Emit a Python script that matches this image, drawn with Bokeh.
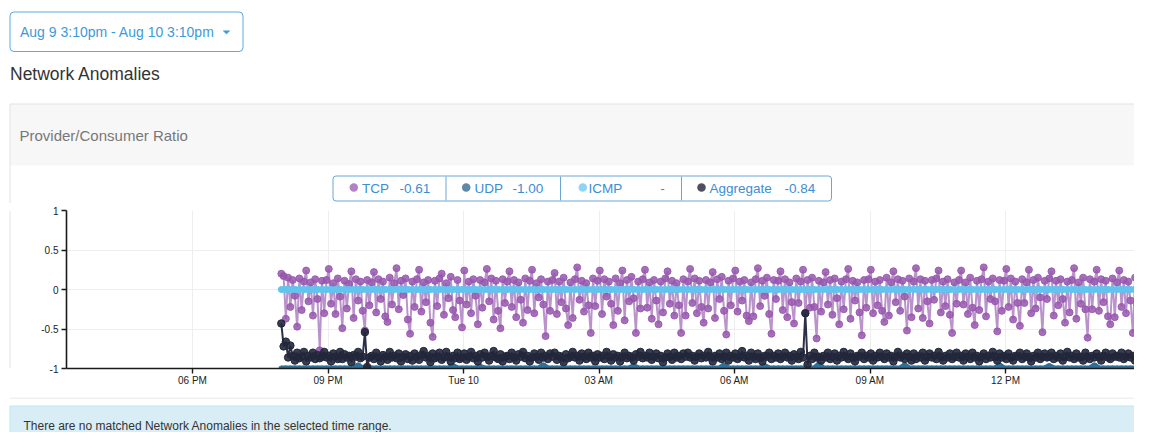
import pandas as pd
from bokeh.plotting import figure
from bokeh.layouts import column, row
from bokeh.models import Range1d, ColumnDataSource, FixedTicker
from bokeh.core.properties import value
from bokeh.embed import file_html
from bokeh.resources import INLINE

# ---------------- data ----------------
series_names = ["TCP", "UDP", "ICMP", "Aggregate"]
summary_values = ["-0.61", "-1.00", "-", "-0.84"]
series_colors = ["#9656ad", "#2f7099", "#62c3ee", "#22273b"]
legend_dot_colors = ["#b283c4", "#5d88a8", "#8dd4f5", "#4f4f61"]

y_ticks = [-1, -0.5, 0, 0.5, 1]
y_tick_labels = ["-1", "-0.5", "0", "0.5", "1"]
x_tick_times = ["2021-08-09 18:00", "2021-08-09 21:00", "2021-08-10 00:00",
                "2021-08-10 03:00", "2021-08-10 06:00", "2021-08-10 09:00",
                "2021-08-10 12:00", "2021-08-10 15:00"]
x_tick_labels = ["06 PM", "09 PM", "Tue 10", "03 AM", "06 AM", "09 AM", "12 PM", "03 PM"]

# TCP and Aggregate: one reading every 3 minutes from 19:58 (one row = one hour)
fine_start = "2021-08-09 19:58"
tcp = [
    0.20, 0.17, -0.37, 0.15, -0.22, 0.12, -0.08, -0.47, 0.14, -0.26, 0.10, 0.24, -0.15, 0.09, -0.33, 0.13, -0.12, -0.77, 0.11, -0.30,
    0.12, 0.26, -0.18, 0.08, -0.31, 0.14, -0.09, -0.49, 0.11, -0.24, 0.07, 0.23, -0.36, 0.13, -0.14, 0.10, -0.27, -0.52, 0.12, -0.20,
    0.09, 0.22, -0.29, 0.13, -0.12, 0.10, -0.34, -0.41, 0.15, -0.19, 0.08, 0.27, -0.25, 0.11, -0.07, 0.14, -0.38, -0.56, 0.10, -0.22,
    0.13, 0.25, -0.28, 0.09, -0.16, 0.12, -0.42, -0.60, 0.11, -0.21, 0.14, 0.20, -0.32, 0.08, -0.11, 0.16, -0.26, -0.35, 0.12, -0.14,
    -0.48, 0.24, -0.19, 0.10, -0.30, 0.13, -0.08, -0.44, 0.12, -0.23, 0.09, 0.26, -0.15, 0.14, -0.38, 0.11, -0.27, -0.49, 0.13, -0.17,
    0.10, 0.23, -0.22, 0.12, -0.35, 0.09, -0.13, -0.42, 0.14, -0.26, 0.11, 0.25, -0.30, 0.08, -0.10, 0.13, -0.19, -0.59, 0.10, -0.27,
    0.12, 0.21, -0.31, 0.10, -0.16, 0.15, -0.24, -0.45, 0.09, -0.36, 0.13, 0.28, -0.13, 0.11, -0.28, 0.08, -0.20, -0.55, 0.14, -0.21,
    0.11, 0.24, -0.31, 0.13, -0.09, 0.10, -0.18, -0.45, 0.14, -0.27, 0.08, 0.24, -0.39, 0.12, -0.15, 0.16, -0.11, -0.55, 0.10, -0.24,
    0.13, 0.25, -0.23, 0.09, -0.37, 0.12, -0.14, -0.44, 0.10, -0.29, 0.14, 0.23, -0.18, 0.11, -0.33, 0.08, -0.20, -0.55, 0.13, -0.33,
    0.10, 0.26, -0.17, 0.14, -0.30, 0.11, -0.22, -0.42, 0.12, -0.24, 0.09, 0.22, -0.36, 0.13, -0.12, 0.16, -0.27, -0.57, 0.11, -0.20,
    0.14, 0.24, -0.28, 0.10, -0.14, 0.12, -0.33, -0.40, 0.09, -0.34, 0.13, 0.27, -0.21, 0.11, -0.08, 0.15, -0.31, -0.56, 0.12, -0.12,
    0.11, 0.23, -0.26, 0.13, -0.35, 0.09, -0.16, -0.43, 0.14, -0.17, 0.10, 0.25, -0.30, 0.12, -0.23, 0.15, -0.22, -0.62, 0.11, -0.28,
    0.09, 0.22, -0.19, 0.12, -0.32, 0.14, -0.11, -0.44, 0.10, -0.25, 0.13, 0.26, -0.37, 0.11, -0.14, 0.09, -0.29, -0.58, 0.12, -0.23,
    0.13, 0.25, -0.30, 0.10, -0.20, 0.12, -0.27, -0.41, 0.15, -0.33, 0.09, 0.23, -0.16, 0.13, -0.27, 0.11, -0.09, -0.52, 0.14, -0.35,
    0.10, 0.27, -0.24, 0.13, -0.36, 0.11, -0.15, -0.43, 0.12, -0.13, 0.14, 0.24, -0.29, 0.10, -0.21, 0.13, -0.32, -0.55, 0.09, -0.18,
    0.12, 0.24, -0.19, 0.09, -0.31, 0.15, -0.23, -0.45, 0.11, -0.26, 0.13, 0.28, -0.34, 0.10, -0.12, 0.14, -0.15, -0.53, 0.12, -0.27,
    0.11, 0.26, -0.22, 0.14, -0.38, 0.10, -0.17, -0.46, 0.13, -0.17, 0.09, 0.25, -0.30, 0.12, -0.24, 0.15, -0.10, -0.54, 0.11, -0.12,
    0.14, 0.23, -0.33, 0.11, -0.20, 0.13, -0.12, -0.42, 0.10, -0.29, 0.12, 0.27, -0.37, 0.09, -0.18, 0.15, -0.25, -0.61, 0.13, -0.25,
    0.10, 0.25, -0.27, 0.13, -0.16, 0.11, -0.34, -0.44, 0.14, -0.35, 0.09, 0.24, -0.22, 0.12, -0.30, 0.10, -0.14, -0.55, 0.15, -0.19,
    0.12, 0.27, -0.15,
]
aggregate = [
    -0.43, -0.72, -0.66, -0.86, -0.71, -0.84, -0.90, -0.80, -0.87, -0.85, -0.79, -0.91, -0.84, -0.86, -0.80, -0.88, -0.83, -0.87, -0.85, -0.79,
    -0.86, -0.84, -0.91, -0.81, -0.85, -0.88, -0.79, -0.88, -0.82, -0.86, -0.84, -0.92, -0.83, -0.85, -0.79, -0.87, -0.85, -0.54, -0.98, -0.86,
    -0.84, -0.88, -0.80, -0.86, -0.91, -0.83, -0.85, -0.89, -0.79, -0.86, -0.84, -0.87, -0.81, -0.91, -0.85, -0.82, -0.88, -0.84, -0.90, -0.81,
    -0.85, -0.89, -0.83, -0.78, -0.86, -0.84, -0.92, -0.81, -0.87, -0.85, -0.80, -0.89, -0.86, -0.79, -0.85, -0.91, -0.84, -0.87, -0.80, -0.88,
    -0.86, -0.81, -0.89, -0.85, -0.79, -0.87, -0.84, -0.91, -0.82, -0.86, -0.80, -0.85, -0.90, -0.84, -0.78, -0.86, -0.88, -0.82, -0.91, -0.85,
    -0.84, -0.88, -0.80, -0.86, -0.90, -0.82, -0.85, -0.79, -0.87, -0.84, -0.91, -0.86, -0.81, -0.85, -0.89, -0.80, -0.86, -0.84, -0.88, -0.81,
    -0.85, -0.80, -0.89, -0.84, -0.86, -0.92, -0.82, -0.87, -0.85, -0.79, -0.86, -0.84, -0.90, -0.81, -0.85, -0.88, -0.80, -0.86, -0.84, -0.91,
    -0.82, -0.86, -0.84, -0.88, -0.79, -0.85, -0.90, -0.82, -0.86, -0.84, -0.91, -0.85, -0.80, -0.87, -0.84, -0.86, -0.90, -0.82, -0.85, -0.79,
    -0.87, -0.84, -0.86, -0.80, -0.89, -0.85, -0.81, -0.87, -0.84, -0.92, -0.86, -0.81, -0.85, -0.89, -0.80, -0.86, -0.84, -0.88, -0.81, -0.85,
    -0.80, -0.86, -0.84, -0.90, -0.85, -0.81, -0.87, -0.84, -0.86, -0.79, -0.85, -0.91, -0.84, -0.86, -0.81, -0.88, -0.85, -0.80, -0.90, -0.84,
    -0.86, -0.81, -0.88, -0.85, -0.78, -0.86, -0.84, -0.90, -0.80, -0.85, -0.88, -0.81, -0.86, -0.91, -0.84, -0.85, -0.80, -0.88, -0.84, -0.86,
    -0.81, -0.88, -0.85, -0.80, -0.86, -0.84, -0.90, -0.82, -0.85, -0.88, -0.79, -0.86, -0.30, -0.95, -0.84, -0.88, -0.80, -0.86, -0.85, -0.90,
    -0.84, -0.86, -0.80, -0.88, -0.85, -0.81, -0.90, -0.84, -0.86, -0.79, -0.85, -0.88, -0.81, -0.86, -0.91, -0.84, -0.85, -0.80, -0.88, -0.84,
    -0.86, -0.81, -0.90, -0.84, -0.86, -0.80, -0.85, -0.88, -0.81, -0.86, -0.84, -0.91, -0.85, -0.79, -0.86, -0.84, -0.88, -0.81, -0.85, -0.90,
    -0.81, -0.88, -0.84, -0.86, -0.80, -0.90, -0.85, -0.81, -0.86, -0.84, -0.88, -0.79, -0.85, -0.90, -0.84, -0.86, -0.81, -0.88, -0.85, -0.80,
    -0.86, -0.84, -0.90, -0.81, -0.85, -0.88, -0.80, -0.86, -0.84, -0.91, -0.85, -0.81, -0.88, -0.84, -0.86, -0.79, -0.85, -0.90, -0.81, -0.86,
    -0.84, -0.88, -0.81, -0.86, -0.90, -0.84, -0.85, -0.80, -0.88, -0.85, -0.81, -0.86, -0.91, -0.84, -0.86, -0.80, -0.88, -0.85, -0.81, -0.86,
    -0.85, -0.80, -0.88, -0.84, -0.86, -0.81, -0.90, -0.85, -0.79, -0.86, -0.84, -0.88, -0.81, -0.86, -0.85, -0.90, -0.80, -0.85, -0.88, -0.84,
    -0.86, -0.81, -0.85, -0.90, -0.84, -0.80, -0.86, -0.88, -0.81, -0.85, -0.84, -0.86, -0.80, -0.88, -0.85, -0.81, -0.86, -0.84, -0.90, -0.85,
    -0.84, -0.86, -0.83,
]

# UDP and ICMP: one reading every 6 minutes from 19:58 (one row = one hour)
coarse_start = "2021-08-09 19:58"
udp = [
    -1.00, -1.00, -1.00, -1.00, -1.00, -1.00, -1.00, -1.00, -1.00, -1.00,
    -1.00, -1.00, -1.00, -1.00, -1.00, -1.00, -1.00, -0.96, -1.00, -1.00,
    -1.00, -1.00, -1.00, -1.00, -1.00, -1.00, -1.00, -1.00, -1.00, -1.00,
    -1.00, -1.00, -1.00, -1.00, -1.00, -1.00, -1.00, -1.00, -0.97, -1.00,
    -1.00, -1.00, -1.00, -1.00, -0.98, -1.00, -1.00, -1.00, -1.00, -1.00,
    -1.00, -1.00, -1.00, -1.00, -1.00, -1.00, -1.00, -1.00, -0.96, -1.00,
    -1.00, -1.00, -1.00, -1.00, -1.00, -1.00, -1.00, -1.00, -1.00, -1.00,
    -1.00, -1.00, -1.00, -1.00, -1.00, -1.00, -1.00, -1.00, -0.97, -1.00,
    -1.00, -1.00, -1.00, -1.00, -1.00, -1.00, -1.00, -1.00, -1.00, -1.00,
    -1.00, -1.00, -1.00, -1.00, -1.00, -1.00, -1.00, -1.00, -0.96, -1.00,
    -1.00, -1.00, -1.00, -1.00, -1.00, -1.00, -1.00, -0.97, -1.00, -1.00,
    -1.00, -1.00, -1.00, -1.00, -1.00, -1.00, -1.00, -1.00, -1.00, -0.95,
    -1.00, -1.00, -1.00, -1.00, -1.00, -1.00, -1.00, -1.00, -1.00, -1.00,
    -1.00, -1.00, -1.00, -1.00, -1.00, -1.00, -1.00, -1.00, -0.96, -1.00,
    -1.00, -1.00, -1.00, -1.00, -1.00, -1.00, -1.00, -1.00, -1.00, -1.00,
    -1.00, -1.00, -1.00, -1.00, -1.00, -1.00, -1.00, -1.00, -1.00, -0.96,
    -1.00, -1.00, -1.00, -1.00, -1.00, -1.00, -1.00, -1.00, -1.00, -1.00,
    -0.97, -1.00, -1.00, -1.00, -1.00, -1.00, -1.00, -1.00, -1.00, -1.00,
    -0.96, -1.00, -1.00, -1.00, -1.00, -1.00, -1.00, -1.00, -1.00, -1.00,
    -1.00, -1.00,
]
icmp = [
    0.0, 0.0, 0.0, 0.0, 0.0, 0.0, 0.0, 0.0, 0.0, 0.0,
    0.0, 0.0, 0.0, 0.0, 0.0, 0.0, 0.0, 0.0, 0.0, 0.0,
    0.0, 0.0, 0.0, 0.0, 0.0, 0.0, 0.0, 0.0, 0.0, 0.0,
    0.0, 0.0, 0.0, 0.0, 0.0, 0.0, 0.0, 0.0, 0.0, 0.0,
    0.0, 0.0, 0.0, 0.0, 0.0, 0.0, 0.0, 0.0, 0.0, 0.0,
    0.0, 0.0, 0.0, 0.0, 0.0, 0.0, 0.0, 0.0, 0.0, 0.0,
    0.0, 0.0, 0.0, 0.0, 0.0, 0.0, 0.0, 0.0, 0.0, 0.0,
    0.0, 0.0, 0.0, 0.0, 0.0, 0.0, 0.0, 0.0, 0.0, 0.0,
    0.0, 0.0, 0.0, 0.0, 0.0, 0.0, 0.0, 0.0, 0.0, 0.0,
    0.0, 0.0, 0.0, 0.0, 0.0, 0.0, 0.0, 0.0, 0.0, 0.0,
    0.0, 0.0, 0.0, 0.0, 0.0, 0.0, 0.0, 0.0, 0.0, 0.0,
    0.0, 0.0, 0.0, 0.0, 0.0, 0.0, 0.0, 0.0, 0.0, 0.0,
    0.0, 0.0, 0.0, 0.0, 0.0, 0.0, 0.0, 0.0, 0.0, 0.0,
    0.0, 0.0, 0.0, 0.0, 0.0, 0.0, 0.0, 0.0, 0.0, 0.0,
    0.0, 0.0, 0.0, 0.0, 0.0, 0.0, 0.0, 0.0, 0.0, 0.0,
    0.0, 0.0, 0.0, 0.0, 0.0, 0.0, 0.0, 0.0, 0.0, 0.0,
    0.0, 0.0, 0.0, 0.0, 0.0, 0.0, 0.0, 0.0, 0.0, 0.0,
    0.0, 0.0, 0.0, 0.0, 0.0, 0.0, 0.0, 0.0, 0.0, 0.0,
    0.0, 0.0, 0.0, 0.0, 0.0, 0.0, 0.0, 0.0, 0.0, 0.0,
    0.0, 0.0,
]

page_texts = {
    "range": "Aug 9 3:10pm - Aug 10 3:10pm",
    "section": "Network Anomalies",
    "panel": "Provider/Consumer Ratio",
    "message": "There are no matched Network Anomalies in the selected time range.",
}

# ---------------- layout constants (pixels, y from top) ----------------
W, H = 1134, 432
TOP_H = 203          # header strip: y 0..203
MID_H = 194          # chart strip:  y 203..397
STRIP_W = 20
FRAME_L, FRAME_T, FRAME_B = 66, 210, 368
UI_FONT = "Liberation Sans"
LEGEND_BLUE = "#6aa7d6"
LEGEND_TEXT = "#3b8ed4"


def deco_fig(w, y0, y1):
    """blank figure whose data coordinates equal pixels (y downwards)"""
    f = figure(width=w, height=y1 - y0, x_range=Range1d(0, w), y_range=Range1d(y1, y0),
               x_axis_location=None, y_axis_location=None,
               output_backend="svg", toolbar_location=None)
    f.min_border = 0
    f.outline_line_color = None
    f.grid.grid_line_color = None
    f.background_fill_color = "white"
    f.border_fill_color = "white"
    return f


def put_text(f, x, y, s, size, color, align="left"):
    f.text(x=[x], y=[y], text=[s], text_font=value(UI_FONT), text_font_size=size,
           text_color=color, text_align=align, text_baseline="middle")


# ---- header: dropdown, section title, panel header, legend ----
top = deco_fig(W, 0, TOP_H)
top.quad(left=[9.5], right=[242.5], top=[11.5], bottom=[51], fill_color="white",
         line_color="#5ea9dd", line_width=1, border_radius=4)
put_text(top, 19.5, 31, page_texts["range"], "14px", "#3d9ad8")
top.patch(x=[222.7, 229.3, 226.0], y=[30.3, 30.3, 33.5], fill_color="#3d9ad8", line_color="#3d9ad8",
          line_width=0.5)
put_text(top, 9.5, 73.5, page_texts["section"], "17.5px", "#333333")

top.quad(left=[9.5], right=[1200], top=[103.5], bottom=[165], fill_color="#f7f7f7", line_color=None)
top.segment(x0=[9.5, 9.5], y0=[103.5, 103.5], x1=[1200, 9.5], y1=[103.5, TOP_H],
            line_color="#e3e3e3", line_width=1)
put_text(top, 19, 134.5, page_texts["panel"], "15px", "#777777")

top.quad(left=[332.5], right=[831], top=[175.5], bottom=[200.5], fill_color="white",
         line_color=LEGEND_BLUE, line_width=1, border_radius=3)
divider_x = [445.5, 560.0, 681.0]
top.segment(x0=divider_x, y0=[176] * 3, x1=divider_x, y1=[200] * 3, line_color=LEGEND_BLUE, line_width=1)
dot_x = [353.3, 465.7, 582.3, 701.0]
name_x = [361.5, 474.0, 588.0, 709.0]
val_x = [399.0, 512.0, 662.0, 784.0]
val_align = ["left", "left", "center", "left"]
top.scatter(x=dot_x, y=[186.9] * 4, size=8.5, fill_color=legend_dot_colors, line_color=None)
for i in range(4):
    put_text(top, name_x[i], 187.5, series_names[i], "13.5px", LEGEND_TEXT)
    put_text(top, val_x[i], 187.5, summary_values[i], "13.5px", LEGEND_TEXT, align=val_align[i])

# ---- left strip holding the panel's left border ----
strip = deco_fig(STRIP_W, TOP_H, TOP_H + MID_H)
strip.segment(x0=[9.5], y0=[TOP_H], x1=[9.5], y1=[TOP_H + MID_H], line_color="#e3e3e3", line_width=1)

# ---- the chart ----
fine_t = pd.date_range(fine_start, periods=len(tcp), freq="3min")
coarse_t = pd.date_range(coarse_start, periods=len(udp), freq="6min")

p = figure(width=W - STRIP_W, height=MID_H, x_axis_type="datetime",
           x_range=Range1d(pd.Timestamp("2021-08-09 15:12:38"), pd.Timestamp("2021-08-10 14:51:15")),
           y_range=Range1d(-1, 1),
           output_backend="svg", toolbar_location=None,
           min_border_left=FRAME_L - STRIP_W, min_border_right=0, min_border_top=FRAME_T - TOP_H,
           min_border_bottom=TOP_H + MID_H - FRAME_B)
p.outline_line_color = None
p.background_fill_color = "white"
p.border_fill_color = "white"

x_ticks_ms = [int(pd.Timestamp(t).value // 10**6) for t in x_tick_times]
p.xaxis.ticker = FixedTicker(ticks=x_ticks_ms)
p.xaxis.major_label_overrides = dict(zip(x_ticks_ms, x_tick_labels))
p.yaxis.ticker = FixedTicker(ticks=y_ticks)
p.yaxis.major_label_overrides = dict(zip(y_ticks, y_tick_labels))

for ax in (p.xaxis[0], p.yaxis[0]):
    ax.axis_line_color = "#1a1a1a"
    ax.axis_line_width = 1.6
    ax.major_tick_line_color = "#1a1a1a"
    ax.major_tick_line_width = 1.4
    ax.major_tick_out = 5
    ax.major_tick_in = 0
    ax.minor_tick_line_color = None
    ax.major_label_text_font = UI_FONT
    ax.major_label_text_font_size = "10px"
    ax.major_label_text_color = "#222222"
p.xaxis.major_label_standoff = 1
p.yaxis.major_label_standoff = 3

p.grid.grid_line_color = "#eeeeee"
p.grid.grid_line_width = 1

fine_src = ColumnDataSource(dict(t=fine_t, tcp=tcp, agg=aggregate))
coarse_src = ColumnDataSource(dict(t=coarse_t, udp=udp, icmp=icmp))

p.line("t", "tcp", source=fine_src, line_color="#b387c5", line_width=2, line_alpha=0.9)
p.scatter("t", "tcp", source=fine_src, size=7, fill_color=series_colors[0],
          line_color=series_colors[0], fill_alpha=0.85, line_alpha=0.85)

p.line("t", "icmp", source=coarse_src, line_color=series_colors[2], line_width=6)
p.scatter("t", "icmp", source=coarse_src, size=6, fill_color=series_colors[2], line_color=series_colors[2])

p.line("t", "udp", source=coarse_src, line_color=series_colors[1], line_width=6)
p.scatter("t", "udp", source=coarse_src, size=5, fill_color=series_colors[1], line_color=series_colors[1])

p.line("t", "agg", source=fine_src, line_color="#2b3047", line_width=2)
p.scatter("t", "agg", source=fine_src, size=7.5, fill_color=series_colors[3],
          line_color=series_colors[3], fill_alpha=0.9)

# ---- bottom: panel bottom border and info message ----
bot = deco_fig(W, TOP_H + MID_H, H)
bot.segment(x0=[9.5], y0=[397.5], x1=[1200], y1=[397.5], line_color="#e3e3e3", line_width=1)
bot.segment(x0=[9.5], y0=[397], x1=[9.5], y1=[397.5], line_color="#e3e3e3", line_width=1)
bot.quad(left=[9.5], right=[1200], top=[405.5], bottom=[460], fill_color="#d9edf7",
         line_color="#bce8f1", line_width=1)
put_text(bot, 23, 425.5, page_texts["message"], "12px", "#333333")

layout = column(top, row(strip, p), bot)
open("out.html", "w").write(file_html(layout, INLINE))
